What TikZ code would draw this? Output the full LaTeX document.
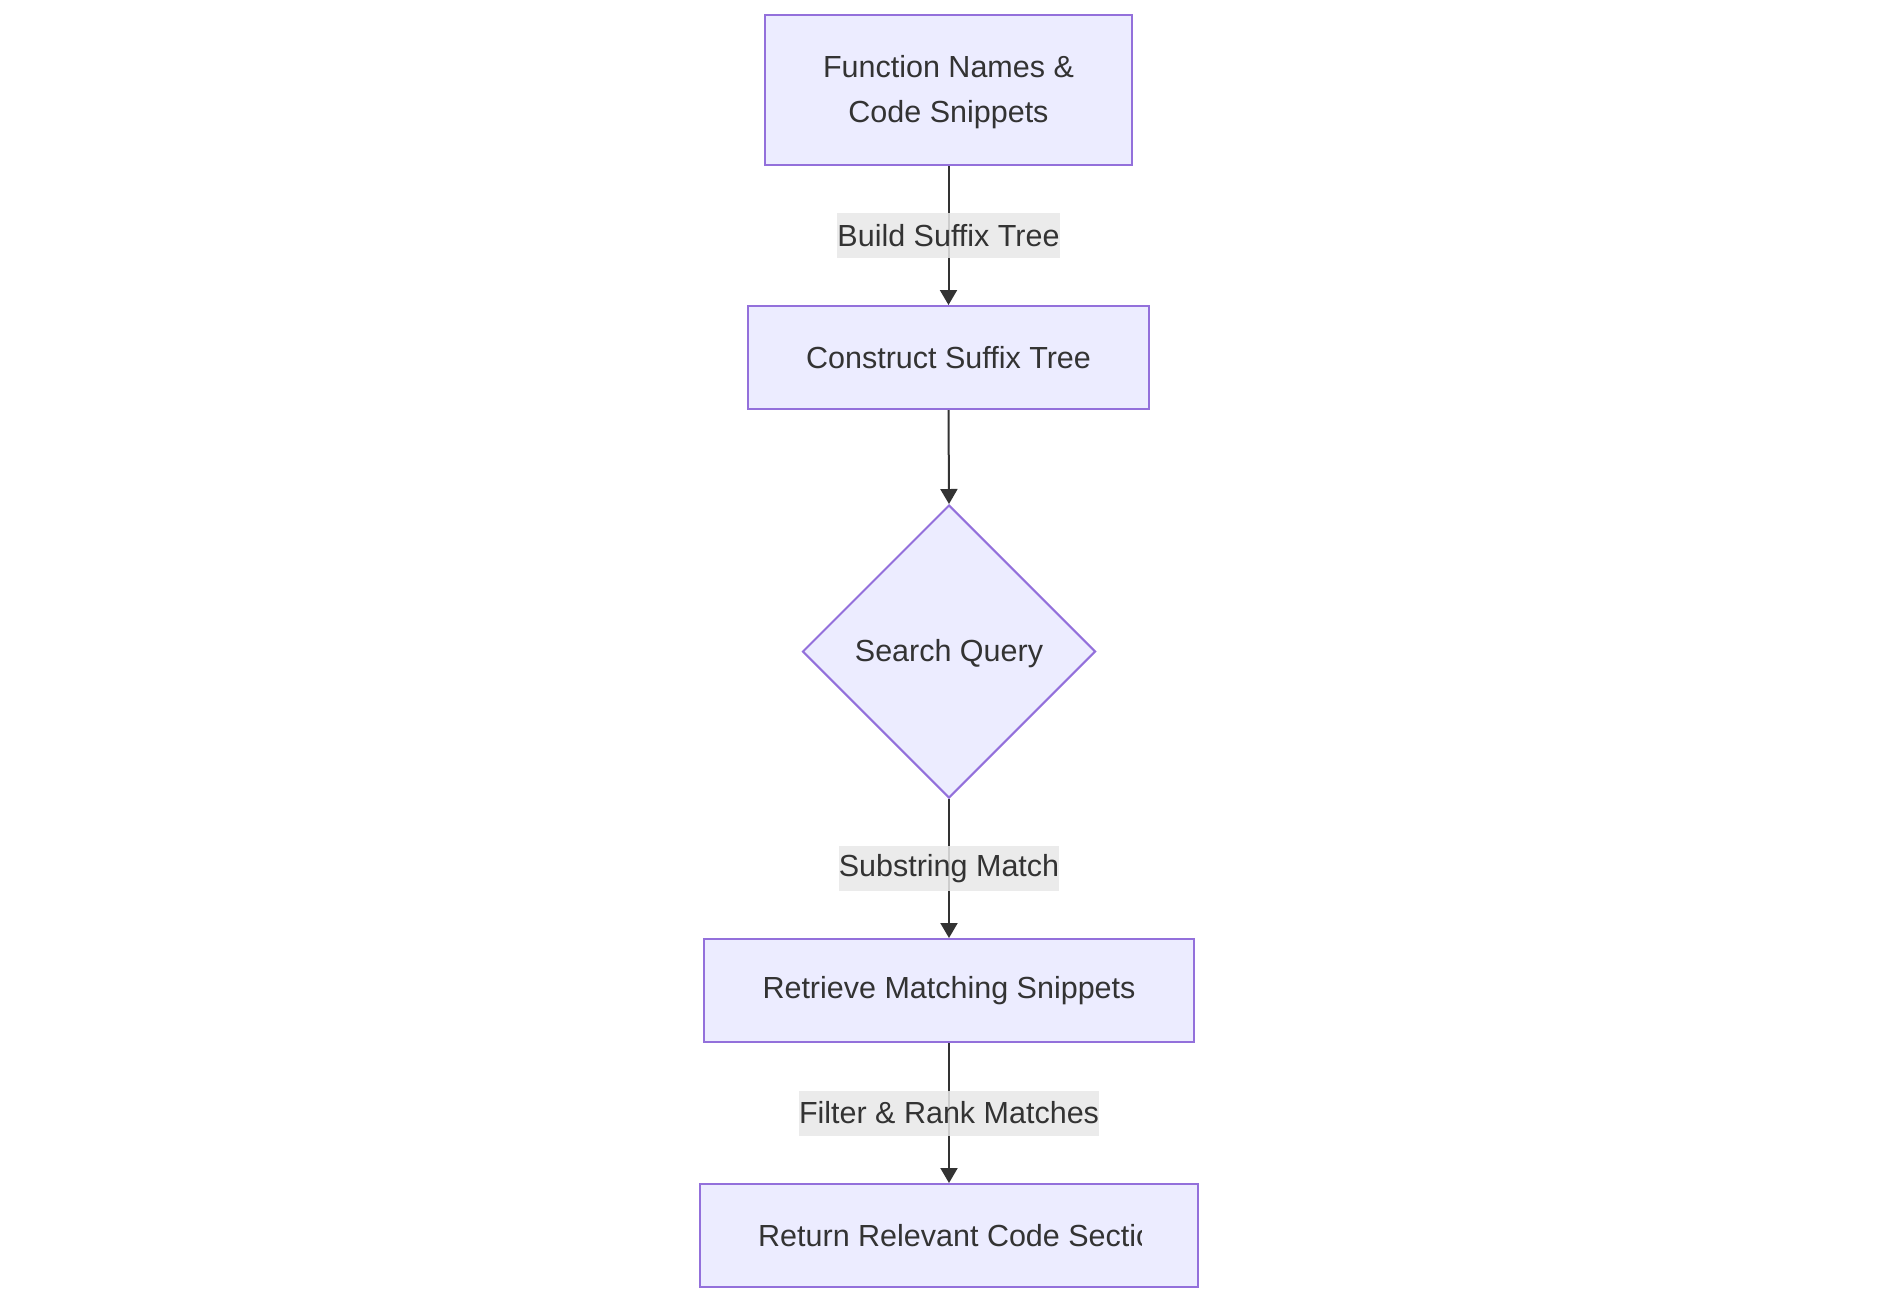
\documentclass[tikz,border=0pt]{standalone}
\usepackage{fontspec}
\setmainfont{Liberation Sans}
\usetikzlibrary{shapes.geometric,arrows.meta}
\definecolor{nodefill}{HTML}{ECECFF}
\definecolor{nodeborder}{HTML}{9370DB}
\definecolor{txt}{HTML}{333333}
\definecolor{lblbg}{HTML}{E8E8E8}
\begin{document}
\begin{tikzpicture}[x=1pt,y=-1pt,
  font=\fontsize{30.5}{45}\selectfont,
  box/.style={draw=nodeborder, fill=nodefill, line width=2pt, text=txt, inner sep=0pt, align=center},
  decision/.style={diamond, shape aspect=1, draw=nodeborder, fill=nodefill, line width=2pt, text=txt, inner sep=0pt, minimum width=293pt, minimum height=293pt},
  conn/.style={draw=txt, line width=2pt, -{Triangle[width=17pt,length=15pt]}},
  elabel/.style={fill=lblbg, fill opacity=0.85, text opacity=1, text=txt, inner xsep=0pt, inner ysep=0pt, minimum height=45pt}]
\useasboundingbox (0,0) rectangle (1898,1302);
\node[box, minimum width=367pt, minimum height=150pt] (n1) at (948.5,90) {};
\node[text=txt, align=center, inner sep=0pt] (t1) at (948.5,92) {Function Names \&\\Code Snippets};
\node[box, minimum width=401pt, minimum height=103pt] (n2) at (948.5,357.5) {Construct Suffix Tree};
\node[decision] (d) at (949,651.5) {};
\node[text=txt, inner sep=0pt] (td) at (949,654) {Search Query};
\node[box, minimum width=490pt, minimum height=103pt] (n4) at (949,990.5) {Retrieve Matching Snippets};
\node[box, minimum width=498pt, minimum height=103pt] (n5) at (949,1235.5) {};
\begin{scope}
  \clip (700,1184) rectangle (1141,1287);
  \node[text=txt, inner sep=0pt, anchor=west] (t5) at (758,1235.5) {Return Relevant Code Sections};
\end{scope}
\draw[conn] (n1.south) -- node[elabel] (l1) {Build Suffix Tree} (n2.north);
\draw[conn] (n2.south) -- (d.north);
\draw[conn] (d.south) -- node[elabel] (l2) {Substring Match} (n4.north);
\draw[conn] (n4.south) -- node[elabel] (l3) {Filter \& Rank Matches} (n5.north);
\end{tikzpicture}
\end{document}
